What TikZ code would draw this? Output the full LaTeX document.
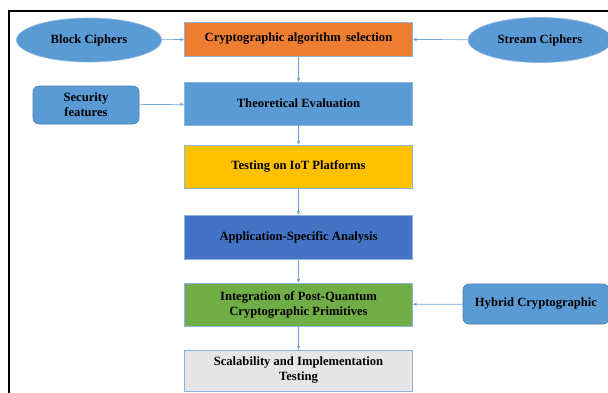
\documentclass[tikz,border=0pt]{standalone}
\usepackage{fontspec}
\setmainfont{Liberation Serif}
\usetikzlibrary{shapes.geometric,arrows.meta}
\definecolor{cOrange}{HTML}{ED7D31}
\definecolor{cBlue}{HTML}{5B9BD5}
\definecolor{cDark}{HTML}{4472C4}
\definecolor{cGreen}{HTML}{70AD47}
\definecolor{cGold}{HTML}{FFC000}
\definecolor{cGrey}{HTML}{E7E6E6}
\definecolor{cEdge}{HTML}{8FB4E0}
\definecolor{cLine}{HTML}{6FA3D9}
\tikzset{
  box/.style={draw=cEdge, line width=0.8pt, minimum width=228pt, inner sep=0pt, align=center, font=\bfseries\fontsize{12.6}{15}\selectfont, text=black},
  oval/.style={ellipse, draw=cEdge, line width=0.6pt, fill=cBlue, inner sep=0pt, font=\bfseries\fontsize{12.6}{15}\selectfont},
  rbox/.style={rounded corners=6pt, draw=cBlue!80!black, line width=0.6pt, fill=cBlue, inner sep=0pt, align=center, font=\bfseries\fontsize{12.6}{15}\selectfont},
  link/.style={draw=cLine, line width=0.7pt, -{Stealth[length=4pt,width=3.5pt]}}
}
\begin{document}
\begin{tikzpicture}[x=1pt,y=-1pt]
\useasboundingbox (0,0) rectangle (608,392);
\fill[white] (0,0) rectangle (608,392);
\draw[black, line width=1.8pt] (9,400) -- (9,11) -- (620,11);
\node[box, fill=cOrange, minimum height=34pt] (sel) at (298.5,39) {Cryptographic algorithm\, selection};
\node[oval, minimum width=145pt, minimum height=44pt] (block) at (89,40) {Block Ciphers};
\node[oval, minimum width=144pt, minimum height=45pt] (stream) at (540,40) {Stream Ciphers};
\node[box, fill=cBlue, minimum height=43pt] (theo) at (298.5,103.5) {Theoretical Evaluation};
\node[rbox, minimum width=106pt, minimum height=38pt] (sec) at (86,105) {Security\\features};
\node[box, fill=cGold, minimum height=43pt] (iot) at (298.5,166.5) {Testing on IoT Platforms};
\node[box, fill=cDark, minimum height=44pt] (app) at (298.5,237) {Application-Specific Analysis};
\node[box, fill=cGreen, minimum height=43pt] (pq) at (298.5,304.5) {Integration of Post-Quantum\\Cryptographic Primitives};
\node[rbox, minimum width=146pt, minimum height=40pt] (hyb) at (536,304) {Hybrid Cryptographic};
\node[box, fill=cGrey, minimum height=41pt] (scal) at (298.5,370.5) {Scalability and Implementation\\Testing};
\draw[link] (block) -- (sel);
\draw[link] (stream) -- (sel);
\draw[link] (sel) -- (theo);
\draw[link] (sec) -- (theo);
\draw[link] (theo) -- (iot);
\draw[link] (iot) -- (app);
\draw[link] (app) -- (pq);
\draw[link] (hyb) -- (pq);
\draw[link] (pq) -- (scal);
\end{tikzpicture}
\end{document}
